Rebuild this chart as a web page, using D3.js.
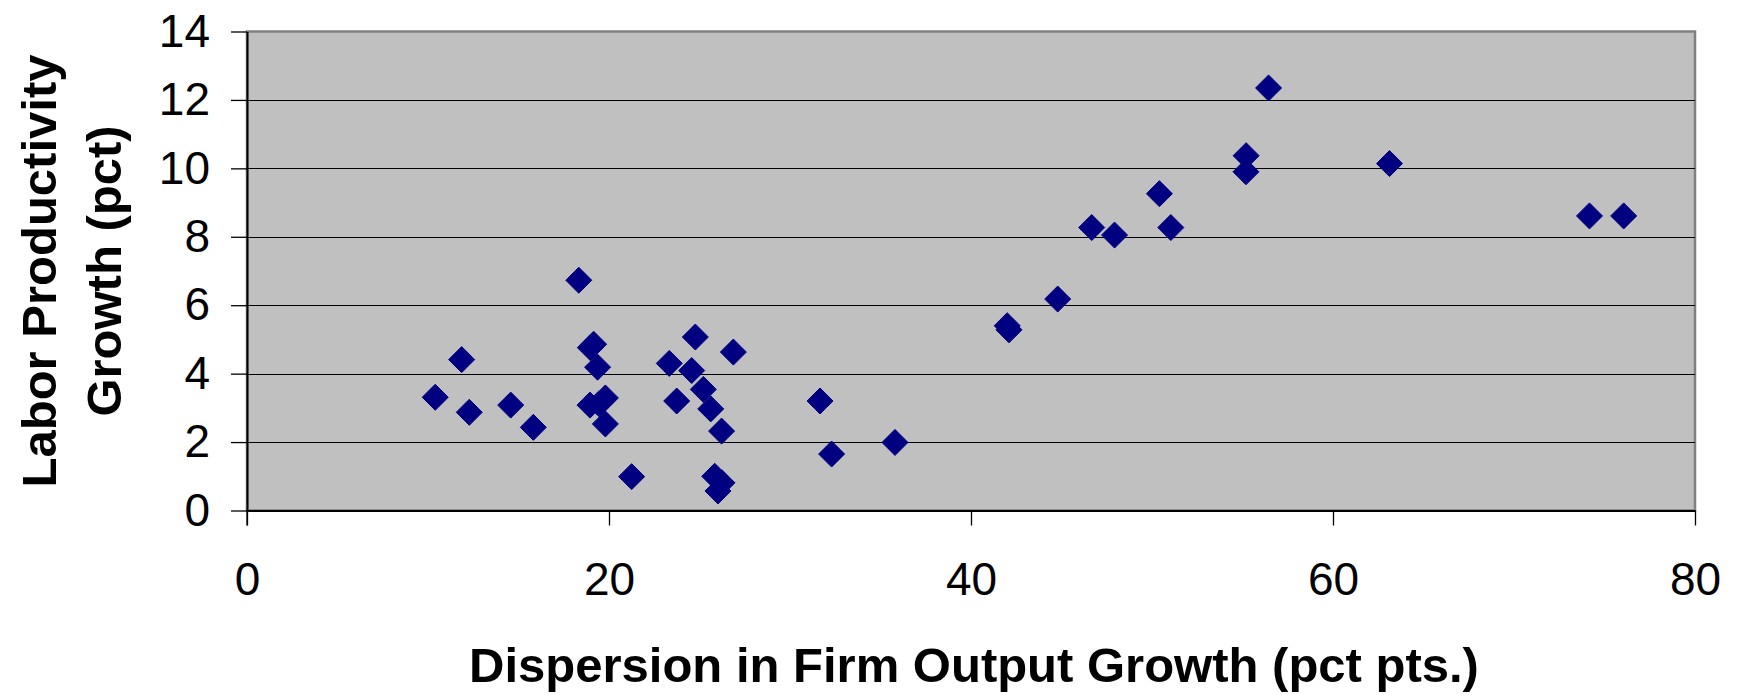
<!DOCTYPE html>
<html>
<head>
<meta charset="utf-8">
<script src="https://cdn.jsdelivr.net/npm/d3@7"></script>
<style>
  html, body { margin: 0; padding: 0; background: #fff; }
  svg { display: block; }
  text { font-family: "Liberation Sans", Arial, sans-serif; }
</style>
</head>
<body>
<svg id="chart" width="1740" height="695"></svg>
<script>
// ---- data ----
const dispersion = [10.40, 11.86, 12.28, 14.57, 15.82, 18.33, 18.97, 19.15, 19.37, 18.95,
                    19.45, 19.80, 19.80, 21.25, 23.33, 23.74, 24.57, 24.77, 25.21, 25.62,
                    26.22, 26.87, 25.84, 26.24, 26.02, 31.66, 32.30, 35.80, 42.00, 42.10,
                    44.79, 46.67, 47.93, 50.41, 51.04, 55.19, 55.20, 56.44, 63.12, 74.17, 76.06];
const productivity = [3.31, 4.41, 2.87, 3.08, 2.43, 6.73, 4.76, 4.86, 4.19, 3.08,
                      3.12, 3.29, 2.53, 0.99, 4.30, 3.20, 4.09, 5.07, 3.54, 2.97,
                      2.32, 4.63, 1.00, 0.81, 0.57, 3.20, 1.65, 1.99, 5.40, 5.28,
                      6.18, 8.27, 8.05, 9.26, 8.27, 9.90, 10.37, 12.35, 10.14, 8.61, 8.61];
const xTicks = [0, 20, 40, 60, 80];
const yTicks = [0, 2, 4, 6, 8, 10, 12, 14];
const xTitle = "Dispersion in Firm Output Growth (pct pts.)";
const yTitleLines = ["Labor Productivity", "Growth (pct)"];

// ---- layout ----
const svg = d3.select("#chart");
const pLeft = 247, pRight = 1695, pTop = 31.5, pBottom = 510.5;
const x = d3.scaleLinear().domain([0, 80]).range([pLeft, pRight]);
const y = d3.scaleLinear().domain([0, 14]).range([pBottom, pTop]);

// plot background
svg.append("rect")
  .attr("x", pLeft).attr("y", pTop)
  .attr("width", pRight - pLeft).attr("height", pBottom - pTop)
  .attr("fill", "#c0c0c0")
  .attr("stroke", "#808080").attr("stroke-width", 2.5);

// gridlines
svg.append("g").selectAll("line")
  .data(yTicks.filter(d => d > 0 && d < 14))
  .join("line")
  .attr("x1", pLeft).attr("x2", pRight)
  .attr("y1", d => Math.round(y(d)) + 0.5).attr("y2", d => Math.round(y(d)) + 0.5)
  .attr("stroke", "#000").attr("stroke-width", 1.2);

// axes
const fontSize = 46;
const yAxis = svg.append("g")
  .attr("transform", `translate(${pLeft},0)`)
  .call(d3.axisLeft(y).tickValues(yTicks).tickSize(16).tickPadding(21).tickSizeOuter(0));
const xAxis = svg.append("g")
  .attr("transform", `translate(0,${pBottom})`)
  .call(d3.axisBottom(x).tickValues(xTicks).tickSize(15).tickPadding(37).tickSizeOuter(0));

[yAxis, xAxis].forEach(g => {
  g.select(".domain").attr("stroke", "#000").attr("stroke-width", 2);
  g.selectAll(".tick line").attr("stroke", "#000").attr("stroke-width", 1.3);
  g.selectAll(".tick text")
    .attr("font-family", '"Liberation Sans", Arial, sans-serif')
    .attr("font-size", fontSize).attr("fill", "#000");
});
svg.append("line").attr("x1", pLeft).attr("x2", pLeft)
  .attr("y1", pBottom).attr("y2", pBottom + 15).attr("stroke", "#000").attr("stroke-width", 1.3);

// markers: diamonds
const r = 13;
svg.append("g").selectAll("path")
  .data(dispersion.map((d, i) => [d, productivity[i]]))
  .join("path")
  .attr("d", d => {
    const cx = x(d[0]), cy = y(d[1]);
    return `M${cx},${cy - r}L${cx + r},${cy}L${cx},${cy + r}L${cx - r},${cy}Z`;
  })
  .attr("fill", "#000080")
  .attr("stroke", "#000080").attr("stroke-width", 1).attr("stroke-linejoin", "round");

// titles
svg.append("text")
  .attr("x", 974).attr("y", 682)
  .attr("text-anchor", "middle")
  .attr("font-size", 49).attr("font-weight", "bold")
  .text(xTitle);

const yc = (pTop + pBottom) / 2;
const yTitle = svg.append("text")
  .attr("transform", `translate(0,${yc}) rotate(-90)`)
  .attr("text-anchor", "middle")
  .attr("font-size", 49).attr("font-weight", "bold");
yTitleLines.forEach((t, i) => {
  yTitle.append("tspan").attr("x", 0).attr("y", i === 0 ? 56 : 121).text(t);
});
</script>
</body>
</html>
